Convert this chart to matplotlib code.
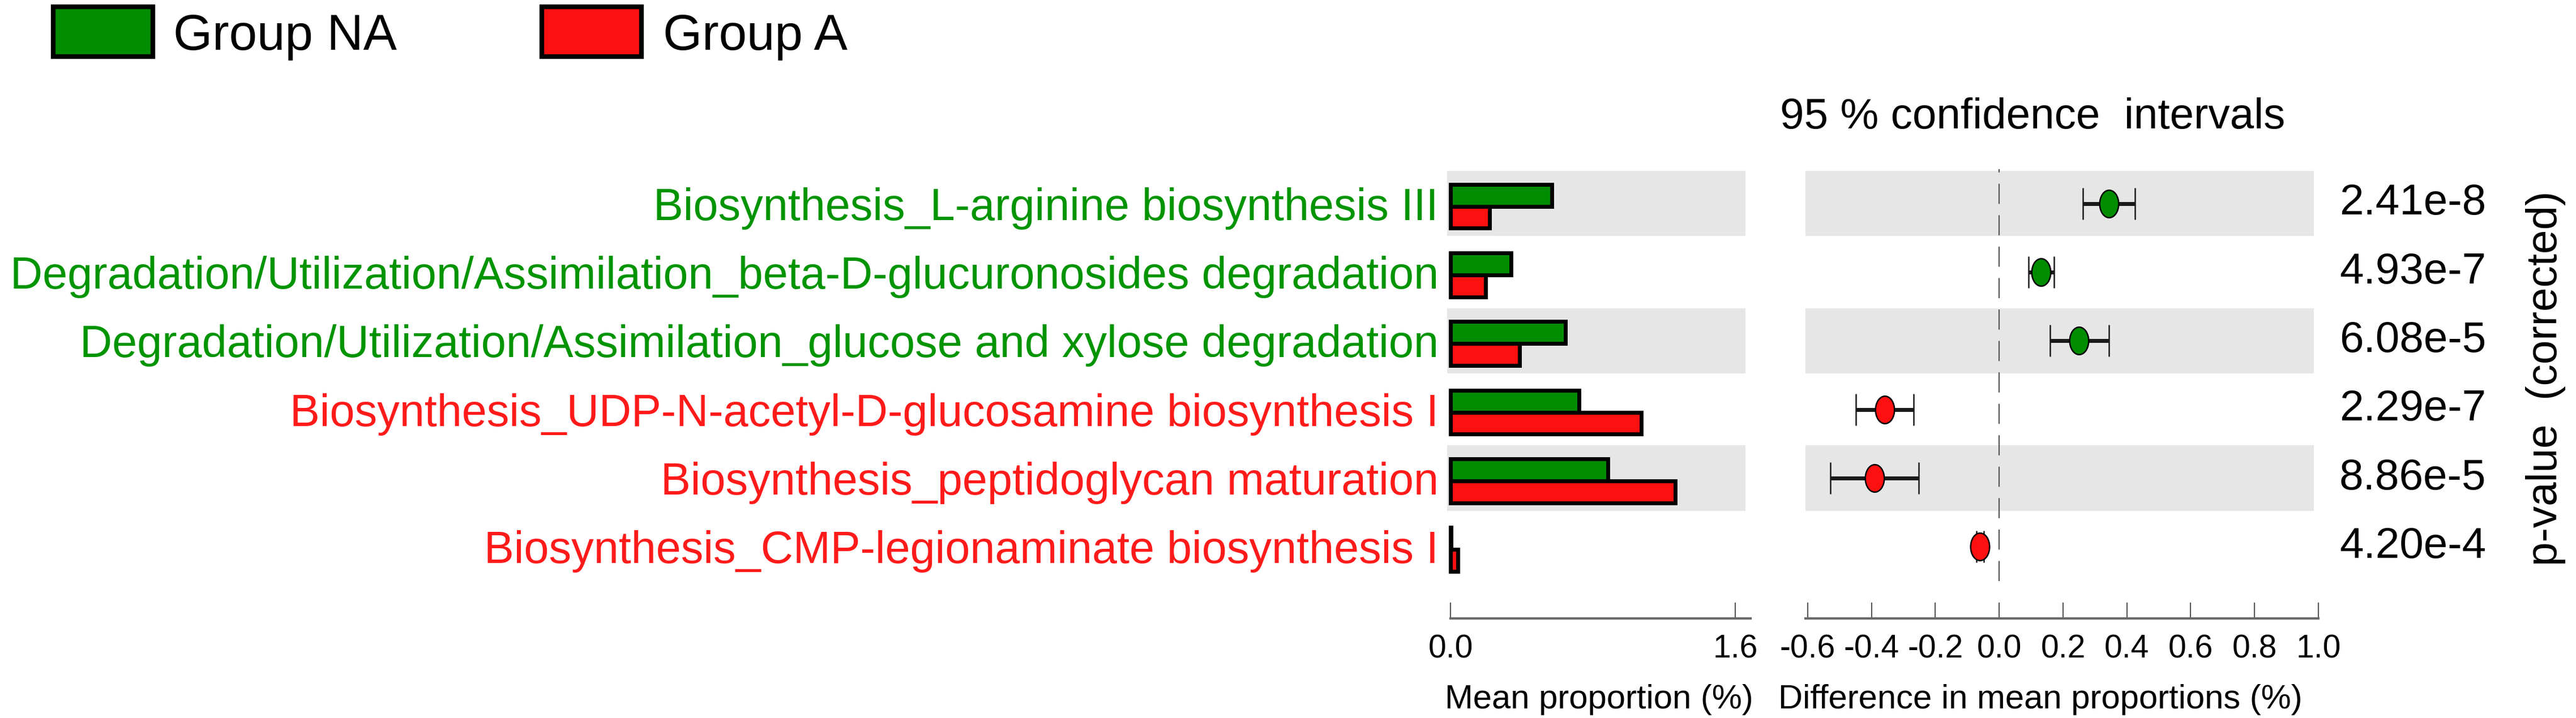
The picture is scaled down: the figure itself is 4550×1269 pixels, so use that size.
import numpy as np
import matplotlib
matplotlib.use("Agg")
import matplotlib.pyplot as plt
from matplotlib.path import Path
from matplotlib.patches import Rectangle

plt.rcParams['font.family'] = ['Liberation Sans', 'DejaVu Sans']

# ---------------- data ----------------
pathways = [
    "Biosynthesis_L-arginine biosynthesis III",
    "Degradation/Utilization/Assimilation_beta-D-glucuronosides degradation",
    "Degradation/Utilization/Assimilation_glucose and xylose degradation",
    "Biosynthesis_UDP-N-acetyl-D-glucosamine biosynthesis I",
    "Biosynthesis_peptidoglycan maturation",
    "Biosynthesis_CMP-legionaminate biosynthesis I",
]
enriched_in = ["NA", "NA", "NA", "A", "A", "A"]
mean_na = [0.569, 0.340, 0.645, 0.722, 0.884, 0.004]
mean_a = [0.218, 0.198, 0.387, 1.071, 1.263, 0.043]
diff = [0.343, 0.131, 0.250, -0.359, -0.390, -0.060]
ci_low = [0.263, 0.091, 0.159, -0.450, -0.529, -0.072]
ci_high = [0.425, 0.172, 0.343, -0.269, -0.252, -0.048]
pvalues = ["2.41e-8", "4.93e-7", "6.08e-5", "2.29e-7", "8.86e-5", "4.20e-4"]
group_names = ["Group NA", "Group A"]
left_ticks = [0.0, 1.6]
right_ticks = [-0.6, -0.4, -0.2, 0.0, 0.2, 0.4, 0.6, 0.8, 1.0]

GREEN = "#008C00"
RED = "#FF1010"
TGREEN = "#009400"
TRED = "#FF1A1A"
BAND = "#E6E6E6"

W, H = 4550, 1269
fig = plt.figure(figsize=(W / 100, H / 100), dpi=100)

def fx(px):
    return px / W

def fy(py):
    return 1 - py / H

top_px, bot_px = 299, 1027
ax1 = fig.add_axes([fx(2556), fy(bot_px), fx(3092 - 2556), (bot_px - top_px) / H])
ax2 = fig.add_axes([fx(3189), fy(bot_px), fx(4095 - 3189), (bot_px - top_px) / H])

n = len(pathways)
y = np.arange(n)

# --------- left panel: mean proportions ----------
ax1.set_xlim(-0.019, 1.686)
ax1.set_ylim(n - 0.5, -0.5)
for i in range(n):
    if i % 2 == 0:
        ax1.axhspan(i - 0.475, i + 0.475, xmin=0, xmax=0.983, color=BAND, lw=0, zorder=0)
bh = 0.32
ax1.barh(y + 0.04 - bh / 2, mean_na, height=bh, color=GREEN, edgecolor="black",
         linewidth=5, zorder=3)
ax1.barh(y + 0.04 + bh / 2, mean_a, height=bh, color=RED, edgecolor="black",
         linewidth=5, zorder=3)

ax1.set_yticks(y)
ax1.set_yticklabels(pathways, fontsize=57)
for lbl, grp in zip(ax1.get_yticklabels(), enriched_in):
    lbl.set_color(TGREEN if grp == "NA" else TRED)
ax1.tick_params(axis="y", length=0, pad=11)

# --------- right panel: differences ----------
ax2.set_xlim(-0.607, 1.0)
ax2.set_ylim(n - 0.5, -0.5)
for i in range(n):
    if i % 2 == 0:
        ax2.axhspan(i - 0.475, i + 0.475, xmin=0, xmax=0.991, color=BAND, lw=0, zorder=0)
ax2.axvline(0, color="#555555", lw=1.6, linestyle=(0, (16, 9)), zorder=1)

d = np.array(diff)
lo = np.array(ci_low)
hi = np.array(ci_high)
ax2.errorbar(d, y, xerr=[d - lo, hi - d], fmt="none", ecolor="#1a1a1a",
             elinewidth=5, capsize=20, capthick=1.8, zorder=3)
circ = Path.unit_circle()
oval = Path(circ.vertices * np.array([0.69, 1.0]), circ.codes)
for xi, yi, grp in zip(d, y, enriched_in):
    ax2.plot([xi], [yi], marker=oval, markersize=35, color=GREEN if grp == "NA" else RED,
             markeredgecolor="black", markeredgewidth=1.8, linestyle="none", zorder=4)
ax2.set_yticks([])

# --------- axes styling ----------
for ax, ticks in ((ax1, left_ticks), (ax2, right_ticks)):
    for s in ("top", "right", "left"):
        ax.spines[s].set_visible(False)
    ax.spines["bottom"].set_position(("outward", 47.5))
    ax.spines["bottom"].set_color("#6a6a6a")
    ax.spines["bottom"].set_linewidth(3)
    ax.set_xticks(ticks)
    ax.set_xticklabels([f"{t:.1f}" for t in ticks], fontsize=41)
    ax.tick_params(axis="x", direction="in", length=20, width=1.5, color="#555555",
                   pad=20)
    ax.set_facecolor("none")

ax1.spines["bottom"].set_bounds(0.0, 1.686)
ax2.spines["bottom"].set_bounds(-0.607, 1.0)
# longer tick at zero in right panel
ax2.set_xticks([0.0], minor=True)
ax2.tick_params(axis="x", which="minor", direction="in", length=30, width=1.5,
                color="#555555")

# --------- texts ----------
fig.text(fx(2824), fy(1236), "Mean proportion (%)", fontsize=43, ha="center", va="center")
fig.text(fx(3604), fy(1236), "Difference in mean proportions (%)", fontsize=43,
         ha="center", va="center")
fig.text(fx(3590), fy(208), "95 % confidence  intervals", fontsize=55, ha="center",
         va="center")
for yi, p in zip(y, pvalues):
    ax2.annotate(p, xy=(fx(4132), yi), xycoords=("figure fraction", "data"),
                 fontsize=55, ha="left", va="center", annotation_clip=False)
fig.text(fx(4497), fy(669), "p-value  (corrected)", fontsize=55, rotation=90,
         ha="center", va="center")

# --------- legend ----------
for x0, col, name, tx in ((94, GREEN, group_names[0], 306), (957, RED, group_names[1], 1171)):
    fig.add_artist(Rectangle((fx(x0), fy(100)), fx(176), 88 / H, transform=fig.transFigure,
                             facecolor=col, edgecolor="black", linewidth=6))
    fig.text(fx(tx), fy(88), name, fontsize=64, ha="left", va="baseline")

fig.savefig("out.png", dpi=100, facecolor="white")
